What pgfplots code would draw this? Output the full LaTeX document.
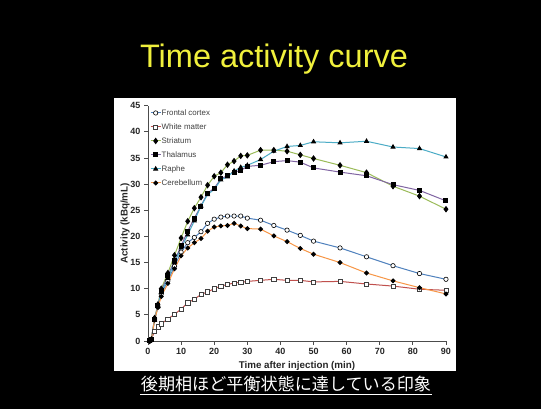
\documentclass[border=0pt]{standalone}
\usepackage{pgfplots}
\pgfplotsset{compat=1.18}
\usepackage{pgfplotstable}
\usepackage{fontspec}
\setmainfont{Liberation Sans}
\newfontfamily\cjk{Noto Sans CJK JP}
\definecolor{ttl}{RGB}{240,240,60}
\definecolor{cfc}{HTML}{4F81BD}
\definecolor{cwm}{HTML}{C0504D}
\definecolor{cst}{HTML}{9BBB59}
\definecolor{cth}{HTML}{8064A2}
\definecolor{cra}{HTML}{4BACC6}
\definecolor{cce}{HTML}{F79646}

\pgfplotstableread{
t    fc   wm   st   th   ra   ce
0.5  0    0.1  0    0    0    0
1    0.3  0.4  0.3  0.3  0.3  0.3
2    4.2  1.8  4.4  4.2  4.0  4.0
3    6.6  2.7  7.0  6.8  6.6  6.4
4    9.0  3.3  10.0 9.6  9.3  8.5
6    11.5 4.2  13.0 12.5 12.0 11.0
8    14.3 5.1  16.4 15.3 15.0 13.8
10   17.0 6.1  19.7 18.2 17.8 16.3
12   18.8 7.3  22.9 21.0 20.3 17.8
14   19.8 8.0  25.4 23.5 23.0 18.8
16   20.9 8.9  27.5 25.8 25.8 19.6
18   22.5 9.4  29.8 28.3 28.0 21.0
20   23.3 10.0 31.5 29.2 29.0 21.8
22   23.7 10.5 32.2 31.0 30.8 22.0
24   23.9 10.8 33.7 31.6 31.4 22.1
26   23.9 11.1 34.4 32.3 32.5 22.5
28   23.9 11.2 35.4 32.6 33.2 22.0
30   23.5 11.4 35.5 33.4 33.6 21.5
34   23.1 11.6 36.5 33.6 34.7 21.4
38   22.1 11.8 36.5 34.3 36.3 20.1
42   21.2 11.6 36.3 34.5 37.2 19.0
46   20.2 11.6 35.6 34.2 37.4 17.7
50   19.1 11.3 34.9 33.1 38.1 16.6
58   17.8 11.4 33.6 32.3 37.9 15.0
66   16.1 10.9 32.2 31.6 38.2 13.0
74   14.4 10.5 29.6 29.9 37.1 11.5
82   12.9 9.9  27.7 28.8 36.8 10.2
90   11.8 9.7  25.2 26.8 35.2 9.0
}\tac

\begin{document}
\begin{tikzpicture}[x=1pt,y=1pt]
\useasboundingbox (0,0) rectangle (541,409);
\fill[black] (0,0) rectangle (541,409);
\fill[white] (114,38) rectangle (456,311);
\node[anchor=base, text=ttl, font=\fontsize{32.5}{38}\selectfont, inner sep=0pt] at (274,341.7) {Time activity curve};
\node[anchor=base, text=white, font=\cjk\fontsize{17.1}{19}\selectfont, inner sep=0pt] at (286,18.6) {後期相ほど平衡状態に達している印象};
\draw[white, line width=1.2pt] (140,14.7) -- (432,14.7);
\begin{axis}[
  at={(148pt,68pt)}, anchor=south west,
  scale only axis, width=298pt, height=235.3pt,
  xmin=0, xmax=90, ymin=0, ymax=45,
  axis x line*=bottom, axis y line*=left,
  axis line style={black!70, line width=0.8pt},
  xtick={0,10,...,90}, ytick={0,5,...,45},
  tick align=outside, major tick length=4pt,
  tick style={black!70, line width=0.8pt},
  /pgf/number format/assume math mode=true,
  ticklabel style={font=\bfseries\fontsize{9}{10}\selectfont, text=black!85},
  xlabel={Time after injection (min)},
  ylabel={Activity (kBq/mL)},
  label style={font=\bfseries\fontsize{9.8}{11}\selectfont, text=black!85},
  xlabel style={at={(axis description cs:0.5,-0.106)}, anchor=center},
  ylabel style={at={(axis description cs:-0.077,0.5)}, anchor=center},
  clip=false,
  legend cell align=left,
  legend style={at={(0.0067,0.988)}, anchor=north west, draw=none, fill=none,
    font=\fontsize{7.9}{9}\selectfont, text=black!75, inner sep=0pt, row sep=5.5pt,
    nodes={inner sep=0.5pt, text height=6pt, text depth=1.5pt}},
  legend image code/.code={\draw[mark repeat=2, mark phase=2, #1] plot coordinates {(0pt,0pt) (5pt,0pt) (10pt,0pt)};},
]
\addplot[cfc, line width=1pt, mark=*, mark size=2.2pt, mark options={solid, fill=white, draw=black, line width=0.6pt}] table[x=t,y=fc]{\tac};
\addlegendentry{Frontal cortex}
\addplot[cwm, line width=1pt, mark=square*, mark size=2.1pt, mark options={solid, fill=white, draw=black!75, line width=0.6pt}] table[x=t,y=wm]{\tac};
\addlegendentry{White matter}
\addplot[cst, line width=1pt, mark=diamond*, mark size=2.5pt, mark options={solid, fill=black, draw=black}] table[x=t,y=st]{\tac};
\addlegendentry{Striatum}
\addplot[cth, line width=1pt, mark=square*, mark size=2pt, mark options={solid, fill=black, draw=black}] table[x=t,y=th]{\tac};
\addlegendentry{Thalamus}
\addplot[cra, line width=1pt, mark=triangle*, mark size=2.1pt, mark options={solid, fill=black, draw=black}] table[x=t,y=ra]{\tac};
\addlegendentry{Raphe}
\addplot[cce, line width=1pt, mark=*, mark size=1.9pt, mark options={solid, fill=black, draw=black}] table[x=t,y=ce]{\tac};
\addlegendentry{Cerebellum}
\end{axis}
\end{tikzpicture}
\end{document}
